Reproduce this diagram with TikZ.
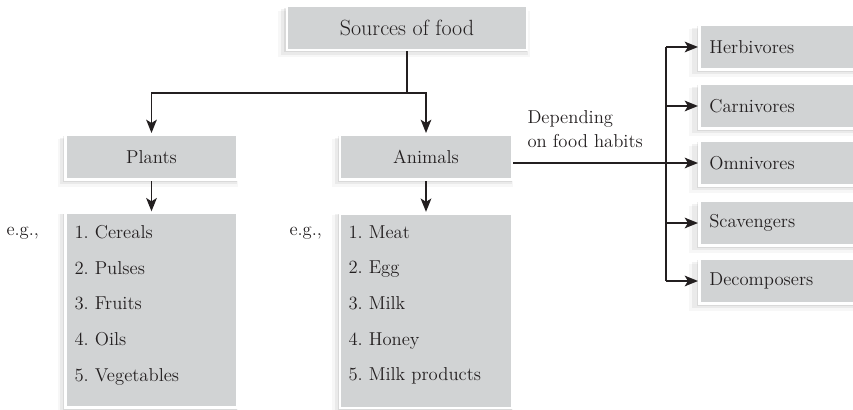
\documentclass[tikz,border=0pt]{standalone}
\usetikzlibrary{arrows.meta,shadows}
\definecolor{boxgray}{RGB}{209,211,212}
\definecolor{inkgray}{RGB}{35,31,32}
\tikzset{every picture/.style={line width=0.75pt}}
\tikzset{
  foodbox/.style={fill=boxgray, draw=white, line width=2pt, inner sep=0pt, text=inkgray,
    font=\fontsize{14}{17}\selectfont,
    general shadow={fill=black, opacity=0.03, shadow xshift=-2.5pt, shadow yshift=-4.5pt, shadow scale=1.05},
    general shadow={fill=black, opacity=0.05, shadow xshift=-2pt, shadow yshift=-3pt, shadow scale=1.03},
    general shadow={fill=black, opacity=0.07, shadow xshift=-1pt, shadow yshift=-1.5pt, shadow scale=1.01}},
  sidebox/.style={foodbox, minimum height=34pt, text width=200pt, align=left, inner xsep=7.5pt, anchor=west},
  plaintext/.style={inner sep=0pt, text=inkgray, font=\fontsize{14}{17}\selectfont},
  link/.style={draw=inkgray, line width=1.3pt},
  linkarrow/.style={link, -{Stealth[length=10pt,width=8pt,inset=2.5pt]}},
}

\begin{document}
\frenchspacing
\begin{tikzpicture}[x=0.75pt,y=0.75pt,yscale=-1,xscale=1]
\useasboundingbox (0,0) rectangle (853,410);

%Shape: Rectangle [id:src]
\node (src) at (407,28) [foodbox, minimum width=180pt, minimum height=33pt, font=\fontsize{16.5}{19}\selectfont] {Sources of food};
%Shape: Rectangle [id:plants]
\node (plants) at (151.5,157) [foodbox, minimum width=129pt, minimum height=34pt] {Plants};
%Shape: Rectangle [id:animals]
\node (animals) at (426,157) [foodbox, minimum width=129pt, minimum height=34pt] {Animals};
%Shape: Rectangle [id:plantlist]
\node (plantlist) at (151.5,310) [foodbox, minimum width=129pt, minimum height=146pt] {};
%Shape: Rectangle [id:animallist]
\node (animallist) at (426,310.5) [foodbox, minimum width=129pt, minimum height=146pt] {};
%Shape: Rectangle [id:side]
\node (herb) at (698,47) [sidebox] {Herbivores};
\node (carni) at (698,106) [sidebox] {Carnivores};
\node (omni) at (698,163) [sidebox] {Omnivores};
\node (scav) at (698,223) [sidebox] {Scavengers};
\node (decomp) at (698,281) [sidebox] {Decomposers};

% Text Node
\node (plantitems) at (74,225) [plaintext, anchor=north west, align=left, font=\fontsize{14}{26.7}\selectfont] {1. Cereals\\2. Pulses\\3. Fruits\\4. Oils\\5. Vegetables};
% Text Node
\node (animalitems) at (348,225) [plaintext, anchor=north west, align=left, font=\fontsize{14}{26.7}\selectfont] {1. Meat\\2. Egg\\3. Milk\\4. Honey\\5. Milk products};
% Text Node
\node (planteg) at (6,235) [plaintext, anchor=base west] {e.g.,};
% Text Node
\node (animaleg) at (289,235) [plaintext, anchor=base west] {e.g.,};
% Text Node
\node (habits) at (527,110) [plaintext, anchor=north west, align=left, font=\fontsize{14}{18}\selectfont] {Depending\\on food habits};

%Straight Lines
\coordinate (fork) at (407,93);
\draw [link] (src.south) -- (fork);
\draw [linkarrow] (fork) -| (plants.north);
\draw [linkarrow] (fork) -| (animals.north);
\draw [linkarrow] (plants.south) -- (plantlist.north);
\draw [linkarrow] (animals.south) -- (animallist.north);

%Straight Lines
\coordinate (bus) at (666,163);
\draw [linkarrow] (animals.east |- omni.west) -- (omni.west);
\draw [link] (bus |- herb.west) -- (bus |- decomp.west);
\draw [linkarrow] (bus |- herb.west) -- (herb.west);
\draw [linkarrow] (bus |- carni.west) -- (carni.west);
\draw [linkarrow] (bus |- scav.west) -- (scav.west);
\draw [linkarrow] (bus |- decomp.west) -- (decomp.west);

\end{tikzpicture}
\end{document}
